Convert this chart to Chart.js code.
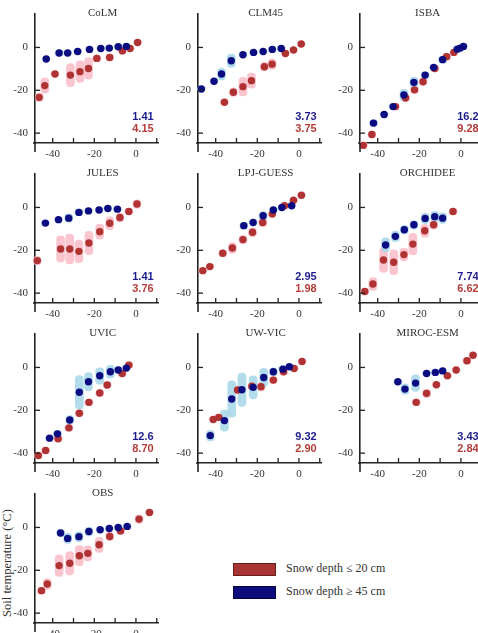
<!DOCTYPE html>
<html>
<head>
<meta charset="utf-8">
<script src="https://cdn.jsdelivr.net/npm/chart.js@4.4.0/dist/chart.umd.min.js"></script>
<style>
  html, body { margin:0; padding:0; background:#fff; }
  body { width:478px; height:633px; overflow:hidden; position:relative; font-family:"Liberation Serif","Times New Roman",serif; }
  canvas { position:absolute; }
  .ylab { position:absolute; left:7px; top:563px; transform:translate(-50%,-50%) rotate(-90deg); white-space:nowrap; font-size:12.5px; color:#333; }
  .lg-box { position:absolute; left:233px; width:41px; height:11px; }
  .lg-txt { position:absolute; left:286px; font-size:12px; color:#333; white-space:nowrap; line-height:14px; }
</style>
</head>
<body>
<div class="ylab">Soil temperature (°C)</div>
<div class="lg-box" style="top:563px;background:#a93434;border:1px solid #6b1c1c;"></div>
<div class="lg-txt" style="top:561px;">Snow depth ≤ 20 cm</div>
<div class="lg-box" style="top:586px;background:#0c0c7c;border:1px solid #04043c;"></div>
<div class="lg-txt" style="top:584px;">Snow depth ≥ 45 cm</div>
<script>
// ---- Data ----
// blue = snow depth >= 45 cm (deep), red = snow depth <= 20 cm (shallow)
const colmDeepX = [-43.1,-36.9,-32.8,-28.0,-22.3,-16.9,-12.8,-8.5,-4.6];
const colmDeepY = [-5.4,-2.6,-2.6,-1.9,-0.9,-0.5,-0.3,0.3,0.5];
const colmDeepErr = [1,1.5,1,1,1,1,1,1,1];
const colmShallowX = [-46.5,-43.8,-38.9,-31.5,-26.9,-22.8,-18.8,-12.6,-6.5,-2.8,0.8];
const colmShallowY = [-23.3,-17.8,-12.4,-12.9,-11.3,-9.8,-5.1,-4.7,-1.6,-0.5,2.3];
const colmShallowErr = [2,3.5,1,5.4,5,5,1.5,1.5,1,1,1];
const colmStats = ["1.41","4.15"];

const clm45DeepX = [-46.9,-40.8,-37.2,-32.5,-26.9,-21.8,-17.2,-12.8,-8.5];
const clm45DeepY = [-19.4,-15.8,-12.4,-6.2,-3.4,-2.3,-1.9,-0.9,-0.5];
const clm45DeepErr = [1,1,2.7,3.1,1,1,1,1,1];
const clm45ShallowX = [-35.8,-31.5,-26.9,-22.8,-16.6,-12.9,-6.5,-2.6,1.1];
const clm45ShallowY = [-25.6,-20.9,-18.3,-15.5,-9.0,-7.8,-2.8,-1.2,1.6];
const clm45ShallowErr = [1,2,4.3,3.5,2,2.5,1,1,1];
const clm45Stats = ["3.73","3.75"];

const isbaDeepX = [-42.0,-36.9,-32.6,-27.4,-22.6,-17.2,-13.1,-8.8,-1.8,-0.3,1.2];
const isbaDeepY = [-35.3,-31.3,-27.6,-22.2,-16.3,-12.9,-9.3,-5.7,-0.8,-0.3,0.5];
const isbaDeepErr = [1.5,1,1,2.7,2.5,1.5,1,1.5,1,1,1];
const isbaShallowX = [-46.9,-42.8,-31.5,-26.6,-22.3,-18.2,-12.6,-6.9,-3.4];
const isbaShallowY = [-45.7,-40.6,-27.6,-23.6,-19.8,-16.0,-9.8,-4.3,-2.3];
const isbaShallowErr = [1.5,1.5,1.5,1.5,1.5,1.5,1.5,1.5,1];
const isbaStats = ["16.2","9.28"];

const julesDeepX = [-43.5,-37.2,-32.3,-27.4,-22.8,-17.7,-13.5,-8.9];
const julesDeepY = [-7.3,-5.7,-5.0,-2.3,-1.6,-1.2,-0.5,-0.8];
const julesDeepErr = [1,1,2,1.5,1,1,1,1];
const julesShallowX = [-47.4,-36.2,-31.8,-27.4,-22.6,-17.4,-12.6,-7.7,-3.4,0.5];
const julesShallowY = [-24.8,-19.4,-19.4,-20.5,-16.6,-11.3,-7.4,-4.7,-1.9,1.6];
const julesShallowErr = [2,6.2,7,5.3,5.4,3.5,3,2,1.5,2];
const julesStats = ["1.41","3.76"];

const lpjDeepX = [-26.5,-22.0,-17.2,-12.3,-8.2,-3.5];
const lpjDeepY = [-8.5,-7.0,-3.9,-1.2,0.0,0.8];
const lpjDeepErr = [1.5,1,2,1,1,1];
const lpjShallowX = [-46.2,-42.8,-36.6,-32.0,-26.9,-22.3,-17.4,-12.8,-6.9,-2.6,1.2];
const lpjShallowY = [-29.5,-27.6,-21.4,-18.9,-15.0,-11.6,-7.0,-3.1,0.8,3.4,5.7];
const lpjShallowErr = [1,1,1.5,2.5,2,2,2,1,1,1,1];
const lpjStats = ["2.95","1.98"];

const orchDeepX = [-36.2,-31.5,-27.2,-22.6,-17.2,-12.6,-8.8];
const orchDeepY = [-17.5,-13.5,-10.4,-8.1,-5.1,-4.3,-5.0];
const orchDeepErr = [3.3,2.5,2,2,2.5,2.5,2.5];
const orchShallowX = [-46.2,-42.3,-37.2,-32.3,-27.4,-23.1,-17.4,-13.1,-3.8];
const orchShallowY = [-39.2,-35.7,-24.5,-25.6,-22.0,-17.1,-10.9,-8.1,-1.9];
const orchShallowErr = [1.5,3,5.8,5.8,3,5,3,2,1.5];
const orchStats = ["7.74","6.62"];

const uvicDeepX = [-41.5,-37.7,-31.8,-27.2,-22.8,-17.4,-12.3,-8.5,-4.6];
const uvicDeepY = [-33.0,-31.0,-24.5,-11.6,-6.7,-3.9,-2.0,-1.2,-0.3];
const uvicDeepErr = [1,1.5,2,7.8,4.3,3.9,3,1.5,1];
const uvicShallowX = [-46.9,-43.4,-37.4,-32.2,-27.2,-22.6,-17.4,-13.8,-6.6,-3.4];
const uvicShallowY = [-41.1,-38.8,-33.3,-28.2,-21.4,-16.3,-11.9,-8.2,-2.8,1.1];
const uvicShallowErr = [1.5,1.5,1.5,1.5,1.5,1.5,1.5,1.5,1.5,1.5];
const uvicStats = ["12.6","8.70"];

const uwvicDeepX = [-42.6,-35.8,-32.3,-27.4,-22.0,-16.9,-12.3,-7.7,-4.6];
const uwvicDeepY = [-31.8,-24.8,-14.7,-10.4,-9.3,-4.7,-2.0,-0.8,0.3];
const uwvicDeepErr = [2.5,5,8.5,7.8,5.4,4.3,2,1.5,1];
const uwvicShallowX = [-41.2,-38.5,-29.5,-22.6,-18.2,-12.3,-7.4,-2.3,1.5];
const uwvicShallowY = [-24.3,-23.3,-10.5,-8.8,-9.0,-5.9,-2.0,-0.5,2.8];
const uwvicShallowErr = [1,1.5,1.5,1.5,2,1.5,1.5,1,1];
const uwvicStats = ["9.32","2.90"];

const mirocDeepX = [-30.3,-26.9,-21.8,-16.5,-12.3,-8.8];
const mirocDeepY = [-6.7,-10.1,-7.3,-2.8,-2.3,-1.6];
const mirocDeepErr = [1,2.5,3.9,1,1,1];
const mirocShallowX = [-21.5,-16.5,-11.8,-6.5,-2.3,2.9,5.8];
const mirocShallowY = [-16.3,-12.1,-8.1,-3.9,-1.2,3.1,5.7];
const mirocShallowErr = [1.5,2,1,1,1,1.5,1];
const mirocStats = ["3.43","2.84"];

const obsDeepX = [-36.2,-32.8,-27.4,-22.6,-17.2,-12.8,-8.5,-4.2];
const obsDeepY = [-2.6,-5.1,-4.3,-1.9,-1.1,-0.5,0.0,0.5];
const obsDeepErr = [1.6,2.3,2.3,2,1,1,1,1];
const obsShallowX = [-45.4,-42.6,-36.9,-31.8,-27.2,-23.1,-17.7,-12.6,-7.4,1.5,6.5];
const obsShallowY = [-29.5,-26.4,-17.8,-16.7,-13.2,-12.1,-8.1,-4.2,-1.6,3.9,7.0];
const obsShallowErr = [1.5,2.5,5,5.4,4.7,3.5,3.5,2,1.5,2,1];
const obsStats = [];

const xTickValues = [-40,-30,-20,-10,0,10];
const yTickValues = [-40,-20,0];

const panels = [
  {title:"CoLM", col:0, row:0, dx:colmDeepX, dy:colmDeepY, de:colmDeepErr, sx:colmShallowX, sy:colmShallowY, se:colmShallowErr, stats:colmStats},
  {title:"CLM45", col:1, row:0, dx:clm45DeepX, dy:clm45DeepY, de:clm45DeepErr, sx:clm45ShallowX, sy:clm45ShallowY, se:clm45ShallowErr, stats:clm45Stats},
  {title:"ISBA", col:2, row:0, dx:isbaDeepX, dy:isbaDeepY, de:isbaDeepErr, sx:isbaShallowX, sy:isbaShallowY, se:isbaShallowErr, stats:isbaStats},
  {title:"JULES", col:0, row:1, dx:julesDeepX, dy:julesDeepY, de:julesDeepErr, sx:julesShallowX, sy:julesShallowY, se:julesShallowErr, stats:julesStats},
  {title:"LPJ-GUESS", col:1, row:1, dx:lpjDeepX, dy:lpjDeepY, de:lpjDeepErr, sx:lpjShallowX, sy:lpjShallowY, se:lpjShallowErr, stats:lpjStats},
  {title:"ORCHIDEE", col:2, row:1, dx:orchDeepX, dy:orchDeepY, de:orchDeepErr, sx:orchShallowX, sy:orchShallowY, se:orchShallowErr, stats:orchStats},
  {title:"UVIC", col:0, row:2, dx:uvicDeepX, dy:uvicDeepY, de:uvicDeepErr, sx:uvicShallowX, sy:uvicShallowY, se:uvicShallowErr, stats:uvicStats},
  {title:"UW-VIC", col:1, row:2, dx:uwvicDeepX, dy:uwvicDeepY, de:uwvicDeepErr, sx:uwvicShallowX, sy:uwvicShallowY, se:uwvicShallowErr, stats:uwvicStats},
  {title:"MIROC-ESM", col:2, row:2, dx:mirocDeepX, dy:mirocDeepY, de:mirocDeepErr, sx:mirocShallowX, sy:mirocShallowY, se:mirocShallowErr, stats:mirocStats},
  {title:"OBS", col:0, row:3, dx:obsDeepX, dy:obsDeepY, de:obsDeepErr, sx:obsShallowX, sy:obsShallowY, se:obsShallowErr, stats:obsStats}
];

// ---- Styling ----
const COL_LEFT = [0, 163, 325];
const ROW_TOP = 160;
const BLUE = '#0b0b82';
const RED = '#b03232';
const BLUE_BAR = 'rgba(165,214,233,0.85)';
const RED_BAR = 'rgba(249,182,194,0.8)';
const AXIS = '#222';
const TXT = '#333';
Chart.defaults.font.family = '"Liberation Serif","Times New Roman",serif';

const deco = {
  id: 'deco',
  afterDraw(chart, args, opts) {
    const {ctx, chartArea: a, scales: {x, y}} = chart;
    ctx.save();
    ctx.strokeStyle = AXIS;
    ctx.lineWidth = 1.3;
    xTickValues.forEach(v => {
      const px = x.getPixelForValue(v);
      if (px > a.right - 1) return;
      ctx.beginPath(); ctx.moveTo(px, a.bottom); ctx.lineTo(px, a.bottom - 5); ctx.stroke();
    });
    yTickValues.forEach(v => {
      const py = y.getPixelForValue(v);
      ctx.beginPath(); ctx.moveTo(a.left, py); ctx.lineTo(a.left + 5, py); ctx.stroke();
    });
    ctx.lineWidth = 1.6;
    ctx.beginPath(); ctx.moveTo(a.left, a.bottom); ctx.lineTo(a.left, a.bottom + 9); ctx.stroke();
    ctx.beginPath(); ctx.moveTo(a.left - 2, a.bottom); ctx.lineTo(a.left, a.bottom); ctx.stroke();
    // title
    ctx.fillStyle = TXT;
    ctx.font = '11px "Liberation Serif","Times New Roman",serif';
    ctx.textAlign = 'center';
    ctx.textBaseline = 'middle';
    ctx.fillText(opts.title, x.getPixelForValue(-16), a.top);
    // statistics
    ctx.font = 'bold 11px "Liberation Sans",Arial,sans-serif';
    ctx.textAlign = 'right';
    if (opts.stats.length) {
      ctx.fillStyle = '#1c1c8e';
      ctx.fillText(opts.stats[0], x.getPixelForValue(8.5), y.getPixelForValue(-32.6));
      ctx.fillStyle = '#b63c3a';
      ctx.fillText(opts.stats[1], x.getPixelForValue(8.5), y.getPixelForValue(-38.1));
    }
    ctx.restore();
  }
};

panels.forEach(p => {
  const c = document.createElement('canvas');
  c.width = 162; c.height = 160;
  c.style.left = COL_LEFT[p.col] + 'px';
  c.style.top = (p.row * ROW_TOP) + 'px';
  c.style.width = '162px'; c.style.height = '160px';
  document.body.appendChild(c);

  const pts = (X, Y) => X.map((v, i) => ({x: v, y: Y[i]}));
  const bars = (X, Y, E) => X.map((v, i) => ({x: v, y: [Y[i] - E[i], Y[i] + E[i]]}));

  new Chart(c, {
    type: 'scatter',
    data: {
      datasets: [
        {type: 'bar', data: bars(p.sx, p.sy, p.se), backgroundColor: RED_BAR, barThickness: 8, borderRadius: 4, borderSkipped: false, grouped: false, order: 4, clip: false},
        {type: 'bar', data: bars(p.dx, p.dy, p.de), backgroundColor: BLUE_BAR, barThickness: 8, borderRadius: 4, borderSkipped: false, grouped: false, order: 3, clip: false},
        {type: 'scatter', data: pts(p.sx, p.sy), backgroundColor: RED, borderWidth: 0, pointRadius: 3.7, order: 2, clip: false},
        {type: 'scatter', data: pts(p.dx, p.dy), backgroundColor: BLUE, borderWidth: 0, pointRadius: 3.7, order: 1, clip: false}
      ]
    },
    options: {
      responsive: false,
      animation: false,
      devicePixelRatio: 1,
      layout: {padding: {top: 13, left: 0, right: 0, bottom: 0}},
      plugins: {legend: {display: false}, tooltip: {enabled: false}, deco: {title: p.title, stats: p.stats}},
      scales: {
        x: {
          type: 'linear', min: -48.5, max: 10.6, offset: false,
          afterFit: s => { s.height = 17; },
          afterBuildTicks: s => { s.ticks = xTickValues.map(v => ({value: v})); },
          grid: {display: true, drawOnChartArea: false, drawTicks: false},
          border: {display: true, color: AXIS, width: 1.6},
          ticks: {color: TXT, font: {size: 11}, padding: 5, maxRotation: 0, autoSkip: false,
                  callback: v => (v % 20 === 0 ? String(v) : '')}
        },
        y: {
          type: 'linear', min: -44.6, max: 15.8,
          afterFit: s => { s.width = 35; },
          afterBuildTicks: s => { s.ticks = yTickValues.map(v => ({value: v})); },
          grid: {display: true, drawOnChartArea: false, drawTicks: false},
          border: {display: true, color: AXIS, width: 1.6},
          ticks: {color: TXT, font: {size: 11}, padding: 7, callback: v => String(v)}
        }
      }
    },
    plugins: [deco]
  });
});
</script>
</body>
</html>
